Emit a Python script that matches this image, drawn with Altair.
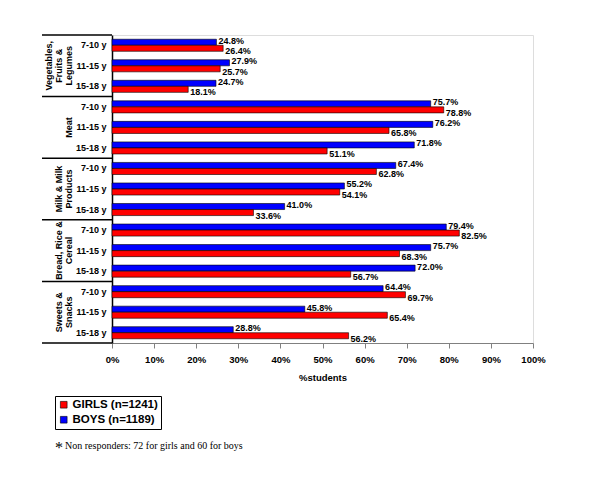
import altair as alt
import pandas as pd

groups = ["Vegetables, Fruits & Legumes", "Meat", "Milk & Milk Products", "Bread, Rice & Cereal", "Sweets & Snacks"]
group_lines = [["Vegetables,", "Fruits &", "Legumes"], ["Meat"], ["Milk & Milk", "Products"], ["Bread, Rice &", "Cereal"], ["Sweets &", "Snacks"]]
ages = ["7-10 y", "11-15 y", "15-18 y"]
boys = [24.8, 27.9, 24.7, 75.7, 76.2, 71.8, 67.4, 55.2, 41.0, 79.4, 75.7, 72.0, 64.4, 45.8, 28.8]
girls = [26.4, 25.7, 18.1, 78.8, 65.8, 51.1, 62.8, 54.1, 33.6, 82.5, 68.3, 56.7, 69.7, 65.4, 56.2]
series = ["GIRLS (n=1241)", "BOYS (n=1189)"]
x_ticks = [0, 10, 20, 30, 40, 50, 60, 70, 80, 90, 100]

rows = []
row_order = []
for gi, g in enumerate(groups):
    for ai, a in enumerate(ages):
        key = f"{g}|{a}"
        row_order.append(key)
        i = gi * 3 + ai
        rows.append({"row": key, "series": series[1], "value": boys[i]})
        rows.append({"row": key, "series": series[0], "value": girls[i]})
df = pd.DataFrame(rows)
df["label"] = df["value"].map(lambda v: f"{v:.1f}%")

grp_df = pd.DataFrame({"first": [f"{g}|{ages[0]}" for g in groups]})
line_rows = []
for g, lines in zip(groups, group_lines):
    n = len(lines)
    for j, t in enumerate(lines):
        line_rows.append({"mid": f"{g}|{ages[1]}", "txt": t, "k": n - 1 - j})
lines_df = pd.DataFrame(line_rows)
last_df = pd.DataFrame({"last": [f"{groups[-1]}|{ages[-1]}"]})

FONT = "Liberation Sans"
W, H = 421, 308

yscale = alt.Scale(domain=row_order, paddingInner=0, paddingOuter=0)
ysort = row_order
off_scale = alt.Scale(domain=[series[1], series[0]], paddingOuter=0.7, paddingInner=0)

base = alt.Chart(df)

bars = base.mark_bar(stroke="black", strokeWidth=0.6, cornerRadius=0).encode(
    x=alt.X("value:Q", scale=alt.Scale(domain=[0, 100], nice=False),
            axis=alt.Axis(values=x_ticks, labelExpr="datum.value + '%'", title="%students",
                          grid=False, domainColor="#808080", tickColor="#808080", tickSize=5,
                          labelFlush=False, labelOverlap=False,
                          labelFont=FONT, labelFontWeight="bold", labelFontSize=9.5, labelColor="black",
                          labelPadding=6, titleFont=FONT, titleFontWeight="bold", titleFontSize=9.5,
                          titlePadding=9, titleColor="black")),
    y=alt.Y("row:N", sort=ysort, scale=yscale,
            axis=alt.Axis(title=None, labelExpr="split(datum.label, '|')[1]", ticks=False,
                          domainColor="black", domainWidth=1.5, labelFont=FONT,
                          labelFontWeight="bold", labelFontSize=9, labelColor="black", labelPadding=6)),
    yOffset=alt.YOffset("series:N", sort=[series[1], series[0]], scale=off_scale),
    color=alt.Color("series:N", scale=alt.Scale(domain=series, range=["#FF0000", "#0000FF"]),
                    legend=alt.Legend(title=None, orient="none", legendX=-57, legendY=361,
                                      symbolType="square", symbolSize=45, symbolStrokeColor="black",
                                      symbolStrokeWidth=0.6, labelFont=FONT, labelFontWeight="bold",
                                      labelFontSize=11.5, labelColor="black", strokeColor="black",
                                      padding=3, rowPadding=2, labelOffset=3)),
)

lab_common = dict(
    x="value:Q",
    y=alt.Y("row:N", sort=ysort, scale=yscale),
    yOffset=alt.YOffset("series:N", sort=[series[1], series[0]], scale=off_scale),
    text="label:N",
)
boys_lab = base.transform_filter(alt.datum.series == series[1]).mark_text(
    align="left", dx=2, dy=-1.5, font=FONT, fontWeight="bold", fontSize=9, color="black").encode(**lab_common)
girls_lab = base.transform_filter(alt.datum.series == series[0]).mark_text(
    align="left", dx=2, dy=3, font=FONT, fontWeight="bold", fontSize=9, color="black").encode(**lab_common)

seps = alt.Chart(grp_df).mark_rule(color="black", strokeWidth=1.5).encode(
    y=alt.Y("first:N", sort=ysort, scale=yscale, bandPosition=0),
    x=alt.value(-70), x2=alt.value(0))
bottom_sep = alt.Chart(last_df).mark_rule(color="black", strokeWidth=1.5).encode(
    y=alt.Y("last:N", sort=ysort, scale=yscale, bandPosition=1),
    x=alt.value(-70), x2=alt.value(0))

glayers = []
for k in range(3):
    glayers.append(
        alt.Chart(lines_df).transform_filter(alt.datum.k == k).mark_text(
            angle=270, align="center", baseline="middle", font=FONT, fontWeight="bold",
            fontSize=9, color="black").encode(
            y=alt.Y("mid:N", sort=ysort, scale=yscale),
            x=alt.value(-43 - 10 * k),
            text="txt:N"))

foot_df = pd.DataFrame({"star": ["*"], "txt": ["Non responders: 72 for girls and 60 for boys"]})
star = alt.Chart(foot_df).mark_text(align="left", baseline="alphabetic", font="Liberation Serif",
                                    fontSize=16, color="black").encode(
    x=alt.value(-57), y=alt.value(418), text="star:N")
foot = alt.Chart(foot_df).mark_text(align="left", baseline="alphabetic", font="Liberation Serif",
                                    fontSize=10, color="black").encode(
    x=alt.value(-47), y=alt.value(414), text="txt:N")

chart = alt.layer(bars, boys_lab, girls_lab, seps, bottom_sep, *glayers, star, foot).properties(
    width=W, height=H,
    autosize=alt.AutoSizeParams(type="none"),
    padding={"left": 104, "top": 27, "right": 40, "bottom": 130},
).configure_view(stroke="#808080", strokeWidth=1.2).configure(background="white")

chart.save("out.html", embed_options={"renderer": "svg", "actions": False})
